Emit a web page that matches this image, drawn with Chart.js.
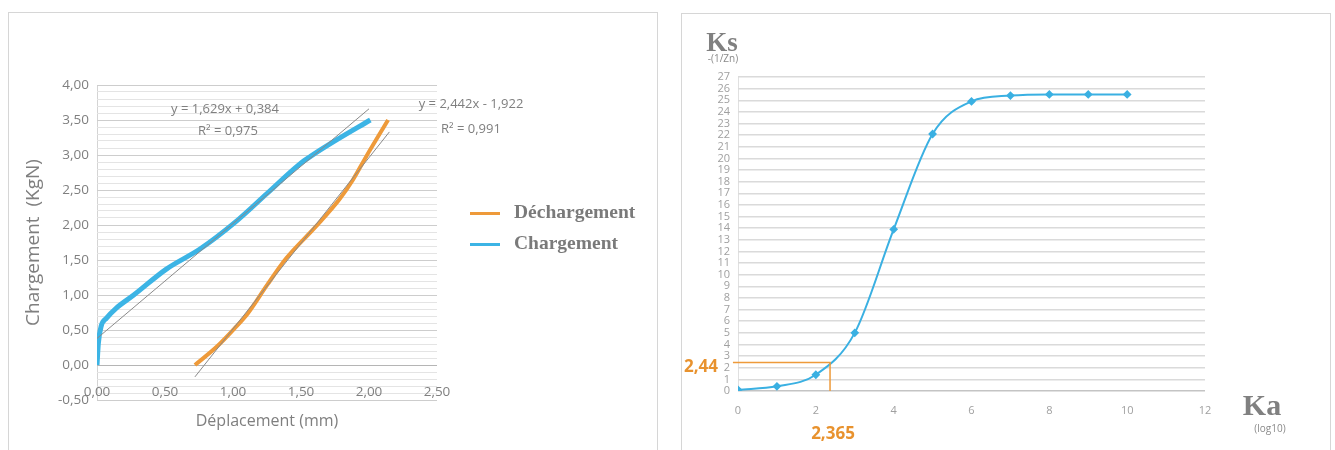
<!DOCTYPE html>
<html><head><meta charset="utf-8">
<script src="https://cdn.jsdelivr.net/npm/chart.js@4.4.1/dist/chart.umd.min.js"></script>
<style>
body{margin:0;width:1335px;height:450px;background:#fff;position:relative;overflow:hidden;font-family:"Open Sans",sans-serif}
.panel{position:absolute;border:1px solid #d6d6d6;background:#fff}
#p1{left:8px;top:12px;width:648px;height:450px}
#p2{left:681px;top:13px;width:648px;height:450px}
canvas{position:absolute}
.t{position:absolute;white-space:nowrap;transform:translate(-50%,-50%)}
.eq{font-size:13px;color:#7f7f7f}
.lg{position:absolute;left:470px;font:bold 19.5px "Liberation Serif",serif;color:#7a7a7a;white-space:nowrap;transform:translateY(-50%)}
.lg span{display:inline-block;width:30px;height:3px;vertical-align:middle;margin-right:14px}
.big{font:bold 27px "Liberation Serif",serif;color:#808080}
.sm{font-size:10px;color:#8a8a8a}
.or{font:bold 17px "Open Sans",sans-serif;color:#e8922e}
</style></head>
<body>
<div class="panel" id="p1"></div>
<div class="panel" id="p2"></div>
<canvas id="c1" width="647" height="437" style="left:9px;top:13px"></canvas>
<canvas id="c2" width="647" height="436" style="left:682px;top:14px"></canvas>

<div class="t eq" style="left:225px;top:108px">y = 1,629x + 0,384</div>
<div class="t eq" style="left:228px;top:130px">R² = 0,975</div>
<div class="t eq" style="left:471px;top:103px">y = 2,442x - 1,922</div>
<div class="t eq" style="left:471px;top:128px">R² = 0,991</div>
<div class="lg" style="top:212px"><span style="background:#ee9a3a"></span>Déchargement</div>
<div class="lg" style="top:243px"><span style="background:#3cb4e5"></span>Chargement</div>

<div class="t big" style="left:722px;top:42px">Ks</div>
<div class="t sm" style="left:723px;top:58px">-(1/Zn)</div>
<div class="t big" style="left:1262px;top:405px;font-size:30px">Ka</div>
<div class="t sm" style="left:1270px;top:428px">(log10)</div>
<div class="t or" style="left:701px;top:365px">2,44</div>
<div class="t or" style="left:833px;top:432px">2,365</div>

<script>
// left chart: load / unload curves (mm, KgN)
const loadX = [0, 0.01, 0.03, 0.07, 0.14, 0.27, 0.51, 0.76, 1.01, 1.25, 1.49, 1.57, 1.74, 2.01];
const loadY = [0, 0.31, 0.55, 0.67, 0.81, 1.00, 1.37, 1.66, 2.03, 2.45, 2.87, 2.98, 3.19, 3.50];
const unloadX = [0.72, 0.88, 1.01, 1.11, 1.25, 1.39, 1.61, 1.78, 1.88, 1.98, 2.14];
const unloadY = [0, 0.26, 0.52, 0.74, 1.14, 1.52, 1.98, 2.36, 2.64, 2.98, 3.50];
const trendLoadX = [0, 2.0], trendLoadY = [0.38, 3.66];
const trendUnloadX = [0.72, 2.15], trendUnloadY = [-0.17, 3.33];

// right chart: Ks vs Ka
const kaX = [0, 1, 2, 3, 4, 5, 6, 7, 8, 9, 10];
const ksY = [0.1, 0.4, 1.4, 5, 13.9, 22.1, 24.9, 25.4, 25.5, 25.5, 25.5];
const refX = [-0.13, 2.365, 2.365], refY = [2.44, 2.44, 0];

const pts = (xs, ys) => xs.map((x, i) => ({ x, y: ys[i] }));
const comma = (v, d) => v.toFixed(d).replace('.', ',');
const ORANGE = '#ee9a3a', BLUE = '#3cb4e5';

new Chart(document.getElementById('c1'), {
  type: 'scatter',
  data: { datasets: [
    { data: pts(trendLoadX, trendLoadY), showLine: true, borderColor: '#8a8a8a', borderWidth: 1, pointRadius: 0 },
    { data: pts(trendUnloadX, trendUnloadY), showLine: true, borderColor: '#8a8a8a', borderWidth: 1, pointRadius: 0 },
    { data: pts(loadX, loadY), showLine: true, borderColor: BLUE, borderWidth: 5, pointRadius: 0, cubicInterpolationMode: 'monotone' },
    { data: pts(unloadX, unloadY), showLine: true, borderColor: ORANGE, borderWidth: 4, pointRadius: 0, cubicInterpolationMode: 'monotone' }
  ]},
  options: {
    responsive: false, animation: false,
    layout: { padding: { top: 72, right: 219, left: 0, bottom: 0 } },
    plugins: { legend: { display: false }, tooltip: { enabled: false } },
    scales: {
      x: {
        type: 'linear', min: 0, max: 2.5,
        afterFit(s) { s.height = 50; },
        border: { display: false },
        grid: { drawTicks: false, color: c => c.tick && c.tick.value === 0 ? '#d4d4d4' : 'transparent' },
        ticks: { stepSize: 0.5, mirror: true, padding: 0, color: '#7f7f7f', font: { family: 'Open Sans', size: 13.5 }, callback: v => comma(v, 2) },
        title: { display: true, text: 'Déplacement (mm)', color: '#7f7f7f', font: { family: 'Open Sans', size: 16 }, padding: { top: 0, bottom: 19 } }
      },
      y: {
        min: -0.5, max: 4,
        afterFit(s) { s.width = 88; },
        border: { display: false },
        grid: { drawTicks: false, color: c => {
          const k = Math.round(c.tick.value * 10);
          if (k === 0) return '#b5b5b5';
          return k % 5 === 0 ? '#cdcdcd' : '#e4e4e4';
        } },
        ticks: { stepSize: 0.1, maxTicksLimit: 100, autoSkip: false, padding: 8, color: '#7f7f7f', font: { family: 'Open Sans', size: 13.5 },
          callback: v => Math.round(v * 10) % 5 === 0 ? comma(v, 2) : '' },
        title: { display: true, text: 'Chargement  (KgN)', color: '#7f7f7f', font: { family: 'Open Sans', size: 19 }, padding: { top: 13, bottom: 0 } }
      }
    }
  }
});

new Chart(document.getElementById('c2'), {
  type: 'scatter',
  data: { datasets: [
    { data: pts(refX, refY), showLine: true, borderColor: ORANGE, borderWidth: 1.5, pointRadius: 0, clip: false },
    { data: pts(kaX, ksY), showLine: true, borderColor: '#3ab0e2', borderWidth: 2, pointStyle: 'rectRot', pointRadius: 3,
      pointBackgroundColor: '#3ab0e2', pointBorderColor: '#3ab0e2', cubicInterpolationMode: 'monotone' }
  ]},
  options: {
    responsive: false, animation: false,
    layout: { padding: { top: 63, right: 124, left: 0, bottom: 0 } },
    plugins: { legend: { display: false }, tooltip: { enabled: false } },
    scales: {
      x: {
        type: 'linear', min: 0, max: 12,
        afterFit(s) { s.height = 59; },
        border: { display: false },
        grid: { drawTicks: false, color: c => c.tick && c.tick.value === 0 ? '#e0e0e0' : 'transparent' },
        ticks: { stepSize: 2, padding: 13, color: '#a0a0a0', font: { family: 'Open Sans', size: 11 } }
      },
      y: {
        min: 0, max: 27,
        afterFit(s) { s.width = 56; },
        border: { display: false },
        grid: { drawTicks: false, lineWidth: 1.5, color: c => c.tick.value === 0 ? '#c4c4c4' : '#dadada' },
        ticks: { stepSize: 1, autoSkip: false, padding: 8, color: '#a0a0a0', font: { family: 'Open Sans', size: 11 } }
      }
    }
  }
});
</script>
</body></html>
